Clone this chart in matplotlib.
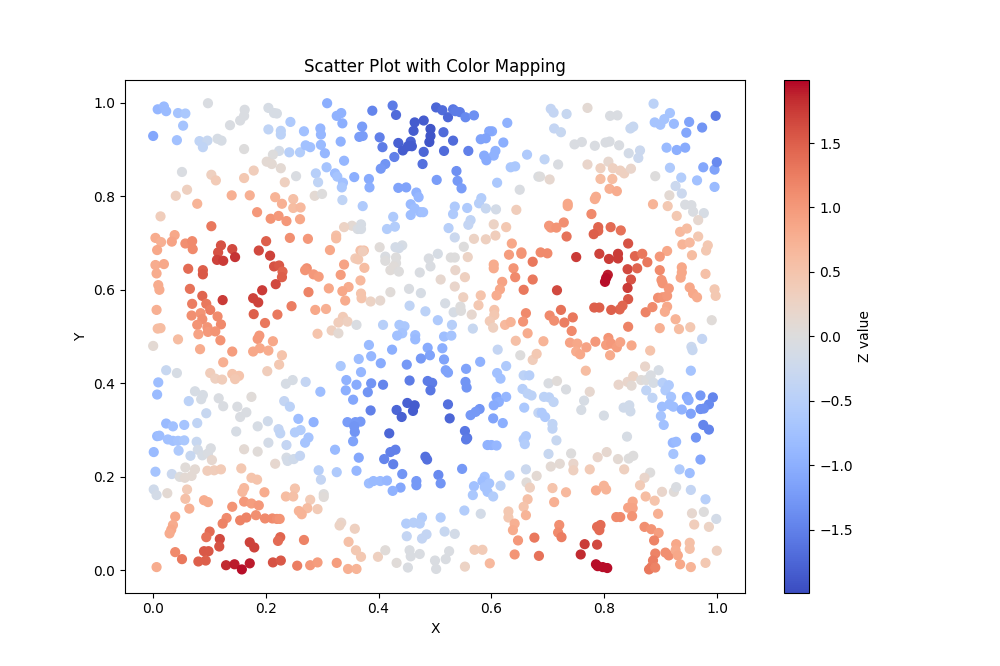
import matplotlib
matplotlib.use('Agg')
import matplotlib.pyplot as plt

# (x, y, z), one list per part of the plot
top_left = [
    (.001,.929,-1.1),(.009,.986,-.9),(.020,.992,-.85),(.024,.982,-.85),(.045,.978,-.7),(.058,.977,-.65),
    (.054,.951,-.7),(.043,.920,-.75),(.098,.999,-.05),(.163,.985,-.05),(.162,.972,-.05),(.155,.962,-.05),
    (.137,.952,-.05),(.205,.989,-.1),(.215,.978,-.1),(.220,.977,-.1),(.244,.959,-.6),(.205,.943,-.4),
    (.227,.940,-.45),(.227,.932,-.45),(.268,.939,-.75),(.309,.999,-1.0),(.297,.945,-.9),(.298,.932,-.9),
    (.083,.918,-.4),(.097,.919,-.3),(.089,.905,-.4),(.115,.923,-.1),(.122,.919,-.1),(.162,.901,0),
    (.224,.897,-.15),(.213,.889,0),(.242,.894,-.5),(.261,.894,-.55),(.271,.909,-.75),(.279,.905,-.75),
    (.298,.910,-.85),(.305,.892,-.9),(.202,.874,.1),(.211,.869,.1),(.227,.860,.1),(.254,.843,-.05),
    (.234,.830,.3),(.289,.849,-.5),(.293,.830,-.4),(.308,.862,-.7),(.052,.852,-.05),(.104,.846,.3),
    (.112,.834,.4),(.162,.839,.45),(.179,.855,.35),(.061,.814,.3),(.041,.801,.3),(.079,.784,.7),
    (.140,.802,.75),(.172,.802,.75),(.217,.798,.7),(.249,.794,.55),(.229,.784,.75),(.249,.775,.6),
    (.262,.776,.65),(.287,.801,.1),(.300,.805,0),(.014,.757,.35),(.185,.766,1.0),(.209,.752,1.05),
    (.223,.758,1.0),(.237,.747,1.0),(.261,.751,.85),(.104,.736,1.3),(.005,.711,.8),(.015,.702,.75),
    (.039,.717,.85),(.034,.703,.9),(.058,.699,1.1),(.070,.704,1.15),(.071,.687,1.15),(.008,.685,.85),
    (.121,.695,1.6),(.141,.687,1.65),(.201,.704,1.5),(.188,.684,1.65),(.243,.711,1.1),(.275,.709,1.0),
    (.314,.685,.85),
]
top_middle = [
    (.326,.972,-.95),(.334,.978,-.95),(.336,.956,-1.0),(.371,.949,-1.2),(.366,.927,-1.2),(.372,.929,-1.2),
    (.333,.917,-.95),(.339,.876,-.9),(.389,.983,-1.45),(.425,.994,-1.55),(.431,.974,-1.7),(.402,.926,-1.5),
    (.407,.905,-1.55),(.428,.884,-1.5),(.412,.869,-1.3),(.404,.859,-1.25),(.464,.958,-1.85),(.480,.962,-1.85),
    (.462,.940,-1.85),(.492,.944,-1.9),(.492,.929,-1.9),(.490,.916,-1.9),(.435,.914,-1.8),(.457,.917,-1.8),
    (.443,.898,-1.85),(.452,.907,-1.85),(.459,.907,-1.85),(.480,.895,-1.75),(.478,.869,-1.65),(.515,.937,-1.7),
    (.532,.919,-1.7),(.516,.897,-1.7),(.559,.897,-1.5),(.502,.990,-1.75),(.513,.984,-1.7),(.523,.969,-1.75),
    (.532,.986,-1.6),(.536,.982,-1.55),(.544,.980,-1.55),(.554,.969,-1.4),(.569,.973,-1.35),(.628,.957,-.95),
    (.601,.939,-1.05),(.596,.939,-1.1),(.590,.924,-1.15),(.581,.922,-1.15),(.621,.915,-1.0),(.607,.897,-.95),
    (.604,.887,-.95),(.587,.887,-1.05),(.591,.877,-1.05),(.663,.889,-.6),(.642,.864,-.65),(.634,.862,-.65),
    (.538,.854,-1.35),(.540,.833,-1.25),(.547,.817,-1.2),(.503,.835,-1.2),(.610,.829,-.65),(.357,.841,-1.0),
    (.383,.837,-1.05),(.384,.819,-1.0),(.435,.818,-1.15),(.449,.819,-1.15),(.323,.849,-.8),(.327,.842,-.7),
    (.337,.829,-.75),(.335,.819,-.65),(.336,.792,-.4),(.372,.779,-.6),(.467,.808,-.95),(.471,.798,-.9),
    (.457,.783,-.85),(.464,.774,-.8),(.474,.766,-.8),(.479,.766,-.75),(.457,.760,-.8),(.426,.756,-.6),
    (.429,.735,-.55),(.415,.730,-.55),(.535,.778,-.6),(.532,.762,-.6),(.557,.775,-.6),(.582,.796,-.55),
    (.578,.785,-.5),(.590,.774,-.3),(.608,.772,-.15),(.650,.814,-.05),(.644,.771,.35),(.683,.842,-.05),
    (.524,.732,-.5),(.563,.749,-.4),(.559,.739,-.35),(.535,.712,-.25),(.604,.740,.25),(.626,.734,.45),
    (.607,.716,.35),(.590,.708,.3),(.569,.709,.25),(.551,.692,0),(.636,.699,.85),(.369,.740,-.1),
    (.353,.737,.1),(.339,.734,.25),(.363,.730,-.05),(.369,.730,-.1),(.325,.716,.55),(.325,.710,.6),
    (.368,.684,.55),(.374,.684,.55),(.402,.691,.05),(.430,.691,-.15),(.442,.695,-.1),(.436,.689,-.15),
    (.653,.680,1.0),
]
top_right = [
    (.705,.987,-.35),(.710,.979,-.35),(.733,.976,-.3),(.770,.989,.1),(.810,.972,-.05),(.823,.973,-.05),
    (.887,.998,-.45),(.916,.978,-.7),(.889,.958,-.7),(.899,.953,-.7),(.906,.965,-.7),(.923,.955,-.85),
    (.950,.959,-1.15),(.997,.972,-1.55),(.973,.947,-1.3),(.945,.936,-1.1),(.711,.945,-.35),(.723,.937,-.3),
    (.846,.945,-.3),(.851,.949,-.3),(.747,.911,-.05),(.760,.916,-.05),(.783,.908,-.05),(.802,.915,-.05),
    (.809,.917,-.05),(.826,.909,-.05),(.910,.904,-.85),(.928,.899,-1.0),(.943,.904,-1.05),(.694,.879,-.4),
    (.718,.868,-.05),(.843,.892,-.15),(.863,.898,-.25),(.860,.882,-.25),(.686,.842,0),(.703,.836,.15),
    (.770,.868,.2),(.807,.874,.15),(.793,.860,.3),(.815,.860,.3),(.828,.855,.3),(.835,.849,.3),
    (.847,.859,.2),(.793,.837,.6),(.814,.837,.6),(.809,.816,.75),(.822,.811,.8),(.890,.843,0),
    (.916,.861,-.6),(.936,.840,-.55),(.964,.834,-.75),(.975,.862,-1.1),(.995,.857,-1.15),(.999,.873,-1.4),
    (.995,.820,-.85),(.926,.822,-.25),(.937,.806,-.25),(.915,.802,.1),(.886,.783,.7),(.912,.779,.45),
    (.943,.782,-.05),(.954,.781,-.05),(.957,.767,-.05),(.976,.764,-.1),(.966,.749,.15),(.928,.758,.45),
    (.783,.794,.8),(.785,.799,.8),(.735,.784,.85),(.735,.779,.85),(.777,.762,1.15),(.728,.744,1.1),
    (.702,.737,1.0),(.705,.733,1.0),(.715,.733,1.05),(.789,.734,1.45),(.789,.726,1.45),(.781,.719,1.5),
    (.811,.734,1.4),(.829,.727,1.35),(.733,.714,1.35),(.842,.699,1.6),(.934,.724,.65),(.946,.731,.6),
    (.966,.714,.45),(.938,.697,.7),(.951,.701,.65),(.983,.695,.45),(.980,.684,.45),(.911,.683,.85),
]
mid_left = [
    (.116,.680,1.6),(.208,.673,1.7),(.114,.664,1.7),(.125,.662,1.75),(.146,.670,1.8),(.005,.653,.8),
    (.020,.655,.85),(.007,.635,.8),(.063,.645,1.4),(.089,.642,1.5),(.089,.633,1.55),(.215,.650,1.6),
    (.224,.652,1.55),(.230,.639,1.45),(.229,.627,1.5),(.218,.612,1.65),(.273,.646,1.1),(.270,.642,1.05),
    (.285,.633,1.0),(.294,.628,.95),(.276,.595,1.2),(.312,.603,.85),(.010,.610,.8),(.012,.600,.8),
    (.066,.602,1.35),(.088,.587,1.45),(.124,.578,1.75),(.194,.599,1.75),(.178,.582,1.7),(.187,.573,1.7),
    (.070,.570,1.25),(.095,.570,1.3),(.102,.557,1.25),(.007,.557,.75),(.179,.548,1.5),(.221,.547,1.3),
    (.246,.565,1.25),(.288,.557,.85),(.307,.559,.75),(.069,.545,1.1),(.085,.550,1.05),(.088,.537,1.1),
    (.115,.543,1.15),(.079,.525,1.05),(.121,.526,1.15),(.097,.520,1.05),(.009,.517,.6),(.014,.518,.6),
    (.199,.529,1.3),(.098,.510,1.0),(.111,.511,1.05),(.081,.505,.9),(.292,.506,.5),(.317,.513,.3),
    (.189,.502,1.0),(.186,.495,1.0),(.213,.490,.85),(.045,.494,.6),(.120,.492,1.05),(.001,.480,.1),
    (.084,.473,.8),(.141,.468,.95),(.178,.468,.85),(.190,.475,.85),(.205,.470,.8),(.229,.460,.5),
    (.125,.445,.75),(.224,.440,.45),(.203,.426,.35),(.102,.422,.35),(.111,.410,.3),(.123,.408,.35),
    (.141,.420,.5),(.153,.416,.5),(.146,.409,.45),(.024,.428,-.3),(.043,.422,-.1),(.010,.402,-.8),
    (.008,.376,-.85),(.236,.399,-.1),(.248,.407,-.1),(.271,.403,-.35),(.297,.382,-.8),(.075,.383,-.1),
    (.089,.375,-.1),(.086,.366,-.1),(.064,.362,-.45),(.117,.368,-.05),(.125,.351,-.05),(.175,.371,.05),
    (.233,.362,-.35),(.243,.350,-.45),(.150,.350,-.05),(.166,.338,-.05),(.155,.328,-.05),(.095,.336,-.3),
    (.258,.324,-.8),(.285,.317,-.95),(.204,.319,-.2),
]
mid_middle = [
    (.339,.654,.9),(.359,.667,.4),(.364,.665,.45),(.375,.647,.6),(.372,.682,.35),(.333,.632,.95),
    (.368,.620,.65),(.347,.606,.8),(.336,.597,.85),(.341,.577,.8),(.369,.592,.5),(.370,.582,.5),
    (.386,.575,.25),(.403,.577,.15),(.421,.595,.05),(.454,.602,-.05),(.475,.593,-.1),(.412,.671,-.05),
    (.412,.662,0),(.431,.669,0),(.431,.657,0),(.421,.642,.05),(.427,.650,.05),(.436,.639,0),
    (.473,.637,-.05),(.489,.667,-.05),(.492,.650,-.05),(.505,.677,-.1),(.528,.669,0),(.535,.669,0),
    (.558,.670,.25),(.510,.622,.15),(.536,.642,.2),(.553,.627,.3),(.535,.607,.2),(.550,.584,.3),
    (.581,.588,.5),(.577,.567,.45),(.518,.571,-.1),(.455,.566,-.4),(.483,.554,-.45),(.533,.552,-.1),
    (.545,.564,0),(.546,.555,0),(.565,.547,.15),(.604,.654,.8),(.604,.646,.8),(.631,.675,.95),
    (.653,.677,1.05),(.673,.660,1.3),(.639,.646,1.05),(.642,.627,1.15),(.673,.622,1.3),(.619,.617,.9),
    (.657,.600,1.3),(.615,.601,.85),(.609,.588,.8),(.661,.550,1.15),(.656,.532,1.05),(.605,.557,.5),
    (.605,.546,.45),(.597,.533,.4),(.603,.519,.3),(.624,.525,.65),(.634,.531,.7),(.664,.507,.8),
    (.643,.491,.55),(.567,.517,-.3),(.337,.542,.4),(.329,.530,.35),(.345,.532,.3),(.329,.507,.1),
    (.361,.525,-.05),(.408,.525,-.5),(.437,.525,-.65),(.446,.522,-.65),(.442,.507,-.7),(.433,.502,-.75),
    (.465,.503,-.8),(.465,.494,-.85),(.505,.535,-.6),(.530,.525,-.5),(.516,.500,-.8),(.529,.502,-.7),
    (.383,.482,-.85),(.424,.472,-1.0),(.487,.476,-1.05),(.513,.475,-1.0),(.491,.460,-1.15),(.475,.453,-1.25),
    (.516,.451,-1.15),(.365,.452,-.8),(.387,.458,-.9),(.404,.443,-1.05),(.333,.437,-.65),(.450,.440,-1.25),
    (.519,.428,-1.15),(.523,.423,-1.15),(.555,.431,-1.15),(.580,.446,-.95),(.611,.472,-.35),(.651,.460,0),
    (.673,.450,.35),(.680,.463,.45),(.626,.437,-.6),(.610,.422,-.75),(.616,.410,-.75),(.657,.417,-.45),
    (.667,.417,-.5),(.369,.424,-.9),(.343,.407,-.95),(.342,.385,-1.0),(.361,.397,-1.05),(.387,.400,-1.3),
    (.408,.397,-1.45),(.381,.381,-1.3),(.455,.406,-1.55),(.487,.405,-1.55),(.495,.401,-1.55),(.492,.385,-1.6),
    (.554,.403,-1.3),(.556,.391,-1.3),(.355,.365,-1.1),(.386,.342,-1.5),(.451,.358,-1.8),(.464,.353,-1.85),
    (.461,.341,-1.85),(.432,.343,-1.75),(.441,.328,-1.8),(.523,.355,-1.65),(.526,.325,-1.75),(.579,.345,-1.3),
    (.572,.339,-1.25),(.563,.332,-1.25),(.609,.371,-1.1),(.626,.371,-.9),(.613,.360,-1.0),(.604,.353,-1.05),
    (.603,.325,-1.15),(.620,.315,-1.0),(.655,.388,-.5),(.664,.378,-.45),(.671,.374,-.45),(.658,.348,-.65),
    (.683,.337,-.35),(.345,.317,-1.2),(.359,.317,-1.25),(.368,.318,-1.25),
]
mid_right = [
    (.687,.680,1.15),(.699,.678,1.15),(.750,.670,1.75),(.791,.677,1.7),(.808,.666,1.75),(.824,.677,1.75),
    (.824,.667,1.75),(.854,.672,1.45),(.867,.677,1.3),(.898,.671,1.0),(.955,.674,.6),(.841,.644,1.65),
    (.858,.646,1.45),(.876,.659,1.3),(.898,.642,1.15),(.937,.648,.85),(.937,.637,.85),(.935,.626,.85),
    (.979,.634,.55),(.806,.632,1.9),(.803,.625,1.95),(.801,.617,1.95),(.847,.622,1.6),(.901,.621,1.05),
    (.903,.614,1.05),(.914,.603,1.0),(.841,.604,1.75),(.716,.599,1.65),(.951,.605,.85),(.957,.592,.85),
    (.964,.584,.8),(.995,.601,.45),(.997,.587,.45),(.895,.583,1.1),(.903,.584,1.05),(.911,.587,1.0),
    (.842,.580,1.55),(.832,.566,1.45),(.827,.558,1.45),(.812,.557,1.5),(.782,.562,1.5),(.791,.562,1.5),
    (.723,.557,1.35),(.703,.545,1.15),(.711,.534,1.1),(.729,.530,1.25),(.744,.541,1.3),(.742,.512,1.15),
    (.873,.552,1.2),(.885,.563,1.15),(.911,.564,.85),(.907,.553,.8),(.926,.537,.7),(.842,.521,1.2),
    (.898,.518,.75),(.932,.516,.6),(.952,.520,.45),(.990,.535,.05),(.692,.490,.7),(.739,.487,.9),
    (.752,.485,.85),(.768,.477,.9),(.750,.468,.8),(.757,.462,.85),(.784,.489,1.0),(.807,.497,1.05),
    (.808,.489,1.0),(.803,.482,.95),(.812,.485,1.0),(.822,.477,.95),(.828,.488,.9),(.848,.481,.85),
    (.810,.460,.8),(.881,.470,.5),(.973,.495,-.35),(.954,.478,-.25),(.956,.471,-.3),(.767,.427,.6),
    (.872,.436,.2),(.896,.428,-.1),(.953,.427,-.7),(.701,.400,-.05),(.716,.405,.05),(.732,.387,-.05),
    (.774,.382,.15),(.825,.397,.2),(.841,.403,.2),(.851,.415,.25),(.848,.395,.1),(.865,.407,.05),
    (.874,.407,0),(.882,.417,-.05),(.887,.401,-.1),(.874,.385,-.4),(.885,.369,-.4),(.903,.401,-.5),
    (.914,.396,-.6),(.908,.385,-.6),(.918,.371,-.7),(.902,.350,-.8),(.915,.355,-.8),(.922,.350,-.8),
    (.937,.344,-.95),(.946,.371,-1.05),(.949,.364,-1.0),(.970,.374,-1.25),(.992,.370,-1.45),(.985,.355,-1.4),
    (.976,.346,-1.35),(.970,.345,-1.35),(.953,.335,-1.15),(.900,.330,-.7),(.693,.371,-.45),(.702,.370,-.45),
    (.710,.360,-.4),(.764,.363,-.1),(.759,.343,-.1),(.689,.337,-.6),(.695,.328,-.6),(.799,.331,-.1),
    (.834,.348,-.2),(.844,.353,-.2),(.846,.340,-.2),
]
bottom_left = [
    (.024,.314,-.85),(.036,.308,-.75),(.056,.311,-.7),(.079,.315,-.4),(.008,.287,-.85),(.012,.288,-.8),
    (.027,.280,-.75),(.036,.277,-.75),(.045,.277,-.7),(.056,.278,-.65),(.002,.253,-.85),(.046,.256,-.6),
    (.078,.275,-.3),(.080,.258,-.15),(.088,.246,-.1),(.067,.245,-.3),(.103,.261,-.05),(.098,.250,-.05),
    (.148,.297,-.1),(.186,.308,-.1),(.205,.273,-.15),(.223,.302,-.35),(.226,.293,-.4),(.252,.295,-.55),
    (.262,.300,-.55),(.276,.284,-.7),(.270,.273,-.7),(.237,.268,-.35),(.162,.259,.1),(.186,.254,.05),
    (.105,.236,.15),(.217,.228,.15),(.237,.241,-.1),(.239,.234,-.15),(.250,.238,-.2),(.261,.245,-.35),
    (.294,.214,-.5),(.298,.194,-.35),(.005,.211,-.7),(.058,.220,.05),(.034,.206,-.25),(.048,.200,0),
    (.057,.198,.1),(.069,.202,.1),(.075,.216,.1),(.097,.213,.35),(.109,.214,.35),(.121,.216,.4),
    (.157,.218,.45),(.175,.198,.5),(.185,.194,.5),(.002,.173,-.2),(.007,.161,-.15),(.026,.165,.1),
    (.061,.173,.4),(.058,.153,.55),(.065,.132,.75),(.091,.150,.8),(.098,.146,.8),(.162,.176,.65),
    (.159,.168,.65),(.198,.167,.8),(.252,.175,.5),(.303,.163,0),(.303,.157,.05),(.236,.158,.6),
    (.249,.158,.55),(.279,.151,.4),(.274,.133,.6),(.292,.131,.4),(.259,.127,.7),(.264,.120,.7),
    (.141,.136,1.05),(.162,.147,1.0),(.175,.143,.95),(.188,.139,1.0),(.183,.118,1.1),(.199,.111,1.15),
    (.212,.111,1.15),(.220,.110,1.1),(.225,.110,1.05),(.040,.115,.85),(.036,.097,.8),(.033,.087,.85),
    (.030,.079,.8),(.131,.112,1.15),(.124,.100,1.2),(.155,.107,1.2),(.166,.113,1.2),(.101,.083,1.4),
    (.095,.071,1.35),(.119,.067,1.65),(.118,.051,1.6),(.172,.060,1.7),(.180,.049,1.7),(.226,.071,1.45),
    (.222,.063,1.4),(.268,.065,1.2),(.040,.039,1.15),(.052,.024,1.3),(.091,.041,1.55),(.099,.041,1.55),
    (.081,.019,1.5),(.094,.021,1.5),(.130,.011,1.85),(.145,.013,1.9),(.158,.002,1.95),(.172,.015,1.9),
    (.213,.017,1.6),(.227,.021,1.55),(.256,.010,1.25),(.279,.011,1.0),(.292,.017,.95),(.007,.007,.8),
]
bottom_middle = [
    (.357,.308,-1.3),(.358,.296,-1.3),(.355,.276,-1.15),(.323,.258,-.85),(.365,.241,-1.1),(.419,.293,-1.75),
    (.421,.253,-1.5),(.430,.258,-1.5),(.410,.238,-1.45),(.426,.227,-1.5),(.483,.243,-1.65),(.486,.237,-1.65),
    (.553,.298,-1.6),(.557,.283,-1.6),(.555,.280,-1.55),(.593,.268,-.95),(.600,.268,-.95),(.609,.267,-.9),
    (.661,.287,-.6),(.657,.280,-.6),(.659,.270,-.55),(.326,.210,-.6),(.361,.213,-.9),(.383,.186,-.8),
    (.391,.191,-.85),(.403,.191,-.85),(.415,.192,-.9),(.442,.206,-1.3),(.439,.177,-1.1),(.425,.170,-.95),
    (.467,.191,-1.25),(.467,.182,-1.25),(.506,.204,-1.4),(.510,.186,-1.3),(.548,.217,-1.25),(.588,.200,-.75),
    (.584,.191,-.8),(.596,.186,-.7),(.569,.180,-.75),(.588,.178,-.7),(.593,.168,-.7),(.567,.161,-.65),
    (.603,.158,-.55),(.616,.181,-.45),(.632,.203,-.5),(.661,.216,-.25),(.680,.202,.1),(.662,.188,.05),
    (.668,.177,.3),(.664,.152,.55),(.657,.136,.5),(.630,.126,.45),(.630,.113,.45),(.661,.118,.7),
    (.641,.100,.75),(.638,.086,.8),(.552,.128,-.55),(.581,.121,-.15),(.510,.113,-.55),(.477,.113,-.55),
    (.449,.100,-.55),(.462,.102,-.5),(.473,.100,-.5),(.450,.073,-.35),(.485,.077,-.35),(.477,.068,-.35),
    (.517,.083,-.3),(.535,.078,-.15),(.334,.102,.2),(.331,.096,.25),(.358,.089,.3),(.347,.061,.55),
    (.360,.043,.45),(.369,.029,.45),(.326,.016,.95),(.346,.003,.75),(.361,.003,.7),(.399,.029,.3),
    (.412,.043,.05),(.432,.016,.05),(.455,.043,-.05),(.457,.030,-.05),(.473,.035,-.05),(.452,.006,-.05),
    (.500,.021,-.05),(.502,.003,-.05),(.519,.024,-.05),(.525,.041,-.05),(.553,.008,.25),(.570,.044,.4),
    (.584,.044,.4),(.597,.015,.65),(.647,.064,1.0),(.676,.070,1.3),(.641,.034,1.05),(.684,.031,1.35),
]
bottom_right = [
    (.708,.313,-.4),(.708,.303,-.4),(.715,.278,-.3),(.840,.286,-.1),(.905,.311,-.75),(.975,.311,-1.45),
    (.985,.301,-1.45),(.962,.284,-1.3),(.921,.273,-.9),(.927,.275,-.85),(.922,.249,-.7),(.970,.237,-1.1),
    (.701,.249,-.3),(.741,.250,0),(.804,.253,.15),(.788,.242,.2),(.824,.238,.1),(.843,.239,0),
    (.851,.245,0),(.705,.222,.1),(.721,.228,.1),(.745,.228,.2),(.745,.214,.3),(.774,.216,.4),
    (.835,.216,.3),(.933,.216,-.6),(.951,.208,-.8),(.881,.209,0),(.871,.198,.2),(.863,.182,.4),
    (.708,.176,.5),(.732,.167,.65),(.711,.146,.75),(.785,.171,.8),(.799,.181,.7),(.803,.173,.7),
    (.902,.168,.2),(.923,.168,.05),(.927,.178,-.05),(.953,.172,-.35),(.979,.152,-.5),(.873,.158,.6),
    (.889,.149,.5),(.850,.147,.85),(.842,.134,.9),(.850,.133,.9),(.849,.116,1.05),(.895,.121,.75),
    (.955,.122,.15),(.976,.125,0),(.998,.110,-.15),(.959,.098,.35),(.985,.093,.25),(.821,.114,1.15),
    (.828,.114,1.15),(.871,.093,1.1),(.883,.088,1.05),(.896,.080,.95),(.888,.064,1.2),(.720,.097,1.1),
    (.718,.081,1.15),(.724,.071,1.25),(.793,.097,1.4),(.787,.093,1.4),(.791,.086,1.4),(.765,.056,1.75),
    (.787,.055,1.65),(.758,.034,1.85),(.785,.013,1.95),(.788,.009,1.95),(.797,.007,1.95),(.805,.005,1.95),
    (.890,.036,1.2),(.886,.021,1.25),(.883,.007,1.25),(.879,.002,1.3),(.890,.006,1.2),(.908,.038,1.1),
    (.914,.032,1.1),(.927,.056,.85),(.926,.043,.8),(.930,.032,.85),(.934,.013,.85),(.953,.007,.7),
    (.951,.059,.55),(.951,.046,.55),(.979,.016,.45),(.999,.042,.3),
]

points = (top_left + top_middle + top_right + mid_left + mid_middle + mid_right
          + bottom_left + bottom_middle + bottom_right)
x_vals = [p[0] for p in points]
y_vals = [p[1] for p in points]
z_vals = [p[2] for p in points]

fig, ax = plt.subplots(figsize=(10, 6.66))
sc = ax.scatter(x_vals, y_vals, c=z_vals, cmap='coolwarm', s=40, vmin=-1.99, vmax=1.99)
fig.colorbar(sc, ax=ax, label='Z value')

ax.set_xlabel('X')
ax.set_ylabel('Y')
ax.set_title('Scatter Plot with Color Mapping')

fig.savefig('out.png', dpi=100)
